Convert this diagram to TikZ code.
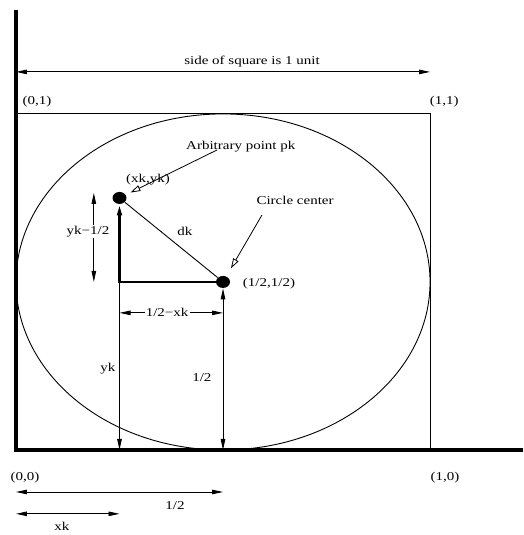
\documentclass[tikz,border=0pt]{standalone}
\usepackage{fontspec}
\setmainfont{Liberation Serif}
\usetikzlibrary{arrows.meta, shapes.geometric}
\tikzset{
  every picture/.style={line width=0.9pt},
  lbl/.style={font=\fontsize{12}{14}\selectfont, xscale=1.25, inner sep=1pt},
  dot/.style={ellipse, fill=black, inner sep=0pt, minimum width=14pt, minimum height=12pt},
  axisline/.style={line width=4pt},
  legline/.style={line width=2.5pt},
  pointer/.style={-{Triangle[open, length=10pt, width=6pt]}, line width=0.8pt},
}

\begin{document}
\begin{tikzpicture}[x=414pt, y=336pt, >={Triangle[length=11pt, width=4.5pt]}]
  \useasboundingbox (-0.0386,-0.253) rectangle (1.2246,1.339);
  \coordinate (O) at (0,0);
  \node[dot] (ctr) at (0.5,0.5) {};
  \node[dot] (pk) at (0.25,0.75) {};
  \draw (O) rectangle (1,1);
  \draw (ctr.center) ellipse [x radius=207pt, y radius=168pt];
  \draw[axisline] (0,1.3095) -- (O) -- (1.2246,0);

  \coordinate (sideL) at (0,1.125);
  \coordinate (sideR) at (1,1.125);
  \coordinate (halfL) at (0,-0.125);
  \coordinate (halfR) at (0.5,-0.125);
  \coordinate (xkL) at (0,-0.19);
  \coordinate (xkR) at (0.25,-0.19);
  \coordinate (dxL) at (0.25,0.408);
  \coordinate (dxR) at (0.5,0.408);
  \coordinate (dyT) at (0.188,0.765);
  \coordinate (dyB) at (0.188,0.5);
  \coordinate (apTail) at (0.486,0.893);
  \coordinate (ccTail) at (0.594,0.699);

  \draw[<->] (sideL) -- (sideR);
  \draw[<->] (halfL) -- (halfR);
  \draw[<->] (xkL) -- (xkR);
  \draw[<->] (dxL) -- (dxR);
  \draw[<->] (dyT) -- (dyB);
  \draw[->] (pk |- ctr) -- (pk |- O);
  \draw[<->] (ctr) -- (ctr |- O);
  \draw (pk) -- (ctr);
  \draw[legline, ->] (ctr) -- (pk |- ctr) -- (pk);
  \draw[pointer, shorten >=5pt] (apTail) -- (pk);
  \draw[pointer, shorten >=9pt] (ccTail) -- (ctr);

  \node[lbl] (side) at (0.57,1.155) {side of square is 1 unit};
  \node[lbl] (c01) at (0.051,1.036) {(0,1)};
  \node[lbl] (c11) at (1.034,1.036) {(1,1)};
  \node[lbl] (c00) at (0.022,-0.083) {(0,0)};
  \node[lbl] (c10) at (1.036,-0.083) {(1,0)};
  \node[lbl] (half) at (0.384,-0.164) {1/2};
  \node[lbl] (xk) at (0.111,-0.226) {xk};
  \node[lbl, fill=white] (dx) at (0.365,0.41) {1/2−xk};
  \node[lbl, fill=white] (dy) at (0.174,0.649) {yk−1/2};
  \node[lbl] (yk) at (0.222,0.241) {yk};
  \node[lbl] (cy) at (0.449,0.214) {1/2};
  \node[lbl] (dk) at (0.408,0.649) {dk};
  \node[lbl] (pklbl) at (0.319,0.804) {(xk,yk)};
  \node[lbl] (ap) at (0.543,0.902) {Arbitrary point pk};
  \node[lbl] (cc) at (0.674,0.744) {Circle center};
  \node[lbl] (ctrlbl) at (0.611,0.494) {(1/2,1/2)};
\end{tikzpicture}
\end{document}
